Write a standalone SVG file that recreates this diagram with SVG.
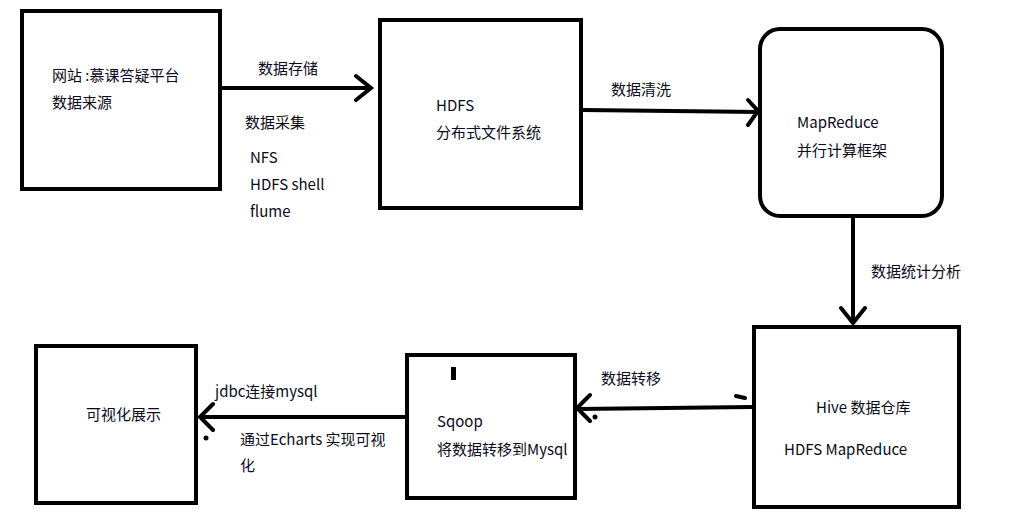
<svg xmlns="http://www.w3.org/2000/svg" width="1011" height="513" viewBox="0 0 1011 513">
<style>
.b{fill:none;stroke:#000;stroke-width:4}
.c{fill:none;stroke:#000;stroke-width:4;stroke-linecap:round}
text{font-family:"Noto Sans CJK SC","Noto Sans",sans-serif;font-size:15px;fill:#0a0a1a}
</style>
<rect width="1011" height="513" fill="#fff"/>
<g id="n1"><rect class="b" x="22" y="11" width="198" height="178"/><text x="52" y="81">网站 :慕课答疑平台</text><text x="52" y="108">数据来源</text></g>
<g id="n2"><rect class="b" x="380" y="20" width="201" height="188"/><text x="436" y="111">HDFS</text><text x="436" y="138">分布式文件系统</text></g>
<g id="n3"><rect class="b" x="760" y="29" width="182" height="187" rx="20"/><text x="797" y="128">MapReduce</text><text x="797" y="156">并行计算框架</text></g>
<g id="n4"><rect class="b" x="754" y="327" width="205" height="180"/><text x="816" y="413">Hive 数据仓库</text><text x="784" y="455">HDFS MapReduce</text></g>
<g id="n5"><rect class="b" x="407" y="355" width="168" height="143"/><text x="437" y="427">Sqoop</text><text x="437" y="455">将数据转移到Mysql</text><rect x="451" y="367" width="5" height="13" fill="#000"/></g>
<g id="n6"><rect class="b" x="36" y="346" width="160" height="157"/><text x="86" y="420">可视化展示</text></g>
<g id="edges">
<path class="c" d="M222 88H370M356 76L371 88L356 100"/>
<path class="b" d="M583 110L760 112" stroke-width="3"/><path class="c" d="M748 100L758 111L748 125" stroke-width="2"/>
<path class="c" d="M853 218V322M841 308L853 323L865 308"/>
<path class="c" d="M752 407L578 409M590 395L577 408L590 421"/>
<path class="c" d="M405 417H200M213 404L200 417L213 430"/>
<path class="c" d="M736 396L745 398"/><circle cx="595" cy="417" r="2.5"/><circle cx="206" cy="438" r="2.5"/>
<text x="258" y="74">数据存储</text><text x="245" y="128">数据采集</text>
<text x="250" y="163">NFS</text><text x="250" y="190">HDFS shell</text><text x="250" y="217">flume</text>
<text x="611" y="95">数据清洗</text><text x="871" y="277">数据统计分析</text>
<text x="601" y="384">数据转移</text><text x="215" y="397">jdbc连接mysql</text>
<text x="240" y="445">通过Echarts 实现可视</text><text x="240" y="471">化</text>
</g>
</svg>
